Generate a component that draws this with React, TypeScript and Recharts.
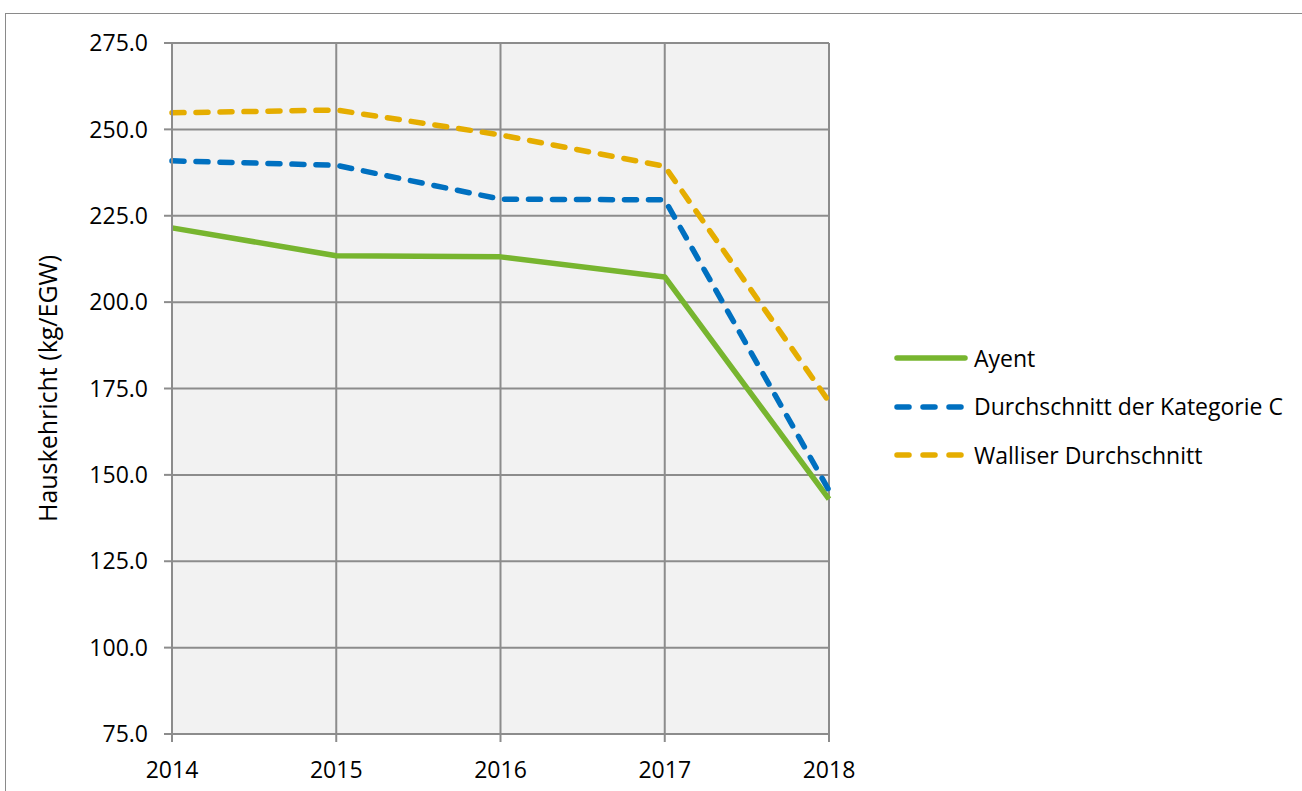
import { LineChart, Line, XAxis, YAxis, CartesianGrid, Label } from "recharts";

const years = [2014, 2015, 2016, 2017, 2018];
const ayent = [221.5, 213.4, 213.1, 207.3, 143.0];
const kategorieC = [240.9, 239.6, 229.8, 229.6, 145.5];
const wallis = [254.8, 255.6, 248.4, 239.3, 171.2];
const yTicks = [75, 100, 125, 150, 175, 200, 225, 250, 275];

const series = [
  { key: "ayent", name: "Ayent", color: "#77B52F", dash: undefined },
  { key: "katC", name: "Durchschnitt der Kategorie C", color: "#0070C0", dash: "12 12" },
  { key: "wallis", name: "Walliser Durchschnitt", color: "#E5AD00", dash: "12 12" },
];

const data = years.map((year, i) => ({
  year,
  ayent: ayent[i],
  katC: kategorieC[i],
  wallis: wallis[i],
}));

const FONT = "'Open Sans', sans-serif";
const FS = 23;

function LegendBox() {
  return (
    <div style={{ fontFamily: FONT, fontSize: FS, color: "#000", lineHeight: 1 }}>
      {series.map((s) => (
        <div key={s.key} style={{ display: "flex", alignItems: "center", height: 48.5 }}>
          <svg width={81} height={10}>
            <line
              x1={4}
              y1={5}
              x2={72}
              y2={5}
              stroke={s.color}
              strokeWidth={5.5}
              strokeLinecap="round"
              strokeDasharray={s.dash ? "12 14" : undefined}
            />
          </svg>
          <span>{s.name}</span>
        </div>
      ))}
    </div>
  );
}

function YLabel(props: any) {
  const vb = props.viewBox || {};
  const cy = vb.y + vb.height / 2;
  const cx = 47;
  return (
    <text
      x={cx}
      y={cy}
      transform={`rotate(-90, ${cx}, ${cy})`}
      textAnchor="middle"
      dominantBaseline="central"
      fontFamily={FONT}
      fontSize={25}
      fill="#000"
    >
      Hauskehricht (kg/EGW)
    </text>
  );
}

export default function App() {
  return (
    <div
      style={{
        position: "absolute",
        left: 0,
        top: 0,
        width: 1302,
        height: 791,
        overflow: "hidden",
        background: "#fff",
      }}
    >
      <div
        style={{
          position: "absolute",
          left: 5,
          top: 13,
          width: 1400,
          height: 900,
          border: "1.5px solid #8a8a8a",
        }}
      />
      <div style={{ position: "absolute", left: 0, top: 0 }}>
        <LineChart
          width={1302}
          height={791}
          data={data}
          margin={{ top: 43, right: 473, bottom: 7, left: 0 }}
        >
          <CartesianGrid
            stroke="#8c8c8c"
            strokeWidth={2}
            fill="#F2F2F2"
            verticalValues={years}
            horizontalValues={yTicks}
          />
          <XAxis
            dataKey="year"
            type="number"
            domain={[2014, 2018]}
            ticks={years}
            height={50}
            tickSize={8}
            tickMargin={20}
            axisLine={{ stroke: "#8c8c8c", strokeWidth: 2 }}
            tickLine={{ stroke: "#8c8c8c", strokeWidth: 2 }}
            tick={{ fill: "#000", fontFamily: FONT, fontSize: FS }}
          />
          <YAxis
            type="number"
            domain={[75, 275]}
            ticks={yTicks}
            width={172}
            tickSize={8}
            tickMargin={16}
            allowDataOverflow
            axisLine={{ stroke: "#8c8c8c", strokeWidth: 2 }}
            tickLine={{ stroke: "#8c8c8c", strokeWidth: 2 }}
            tick={{ fill: "#000", fontFamily: FONT, fontSize: FS }}
            tickFormatter={(v: number) => v.toFixed(1)}
          >
            <Label content={YLabel} />
          </YAxis>
          {series.map((s) => (
            <Line
              key={s.key}
              dataKey={s.key}
              name={s.name}
              stroke={s.color}
              strokeWidth={5.5}
              strokeDasharray={s.dash}
              strokeLinecap={s.dash ? "round" : "butt"}
              strokeLinejoin="round"
              dot={false}
              activeDot={false}
              isAnimationActive={false}
            />
          ))}
        </LineChart>
      </div>
      <div style={{ position: "absolute", left: 893, top: 334 }}>
        <LegendBox />
      </div>
    </div>
  );
}
